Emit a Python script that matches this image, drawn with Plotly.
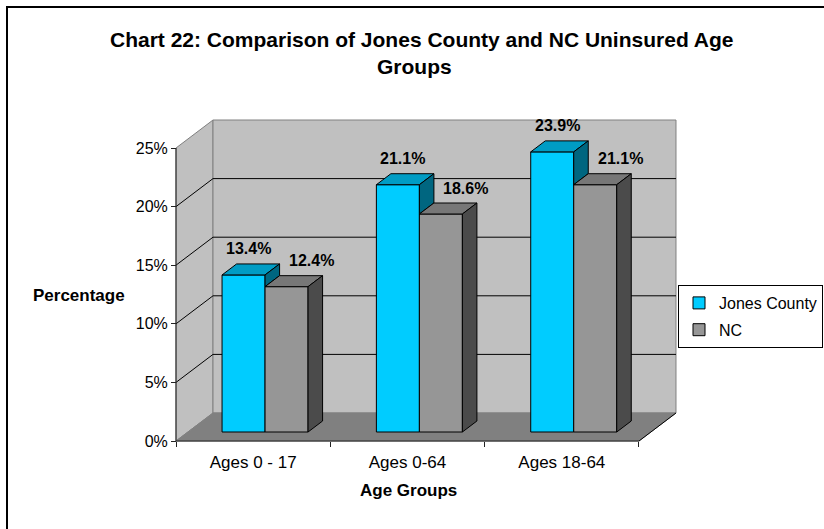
import plotly.graph_objects as go

# ---- data -------------------------------------------------------------
categories = ["Ages 0 - 17", "Ages 0-64", "Ages 18-64"]
jones_county = [13.4, 21.1, 23.9]
nc = [12.4, 18.6, 21.1]
series_names = ["Jones County", "NC"]
y_ticks = [0, 5, 10, 15, 20, 25]
y_tick_text = ["0%", "5%", "10%", "15%", "20%", "25%"]

# ---- page / projection geometry -------------------------------------
W, H = 824, 529
ML, MR, MT, MB = 172, 142, 117, 84
PW = W - ML - MR
PH = H - MT - MB
PX_CAT = 154.33          # pixels per category slot
PX_PCT = 11.72           # pixels per percentage point
ORIGIN_PX = (176, 441)   # front-left corner of the floor

DX = 37 / PX_CAT         # oblique depth, x component (category units)
DY = 28 / PX_PCT         # oblique depth, y component (percent units)
FRONT = 9 / 28           # depth fraction where bar fronts sit
THICK = 11 / 28          # bar thickness as depth fraction
BW = 43 / PX_CAT         # bar width

x_lo = -0.5 - (ORIGIN_PX[0] - ML) / PX_CAT
x_range = [x_lo, x_lo + PW / PX_CAT]
y_lo = -((H - MB) - ORIGIN_PX[1]) / PX_PCT
y_range = [y_lo, y_lo + PH / PX_PCT]

XL, XR = -0.5, len(categories) - 0.5
YMAX = y_ticks[-1]

FONT = "Liberation Sans, Arial, sans-serif"
WALL = "#C0C0C0"
FLOOR = "#808080"
EDGE = "#808080"

styles = [
    dict(front="#00CCFF", top="#009CC4", side="#006680", offset=-BW),
    dict(front="#969696", top="#777777", side="#4B4B4B", offset=0.0),
]
values = [jones_county, nc]


def px_x(px):
    return (px - ML) / PW


def px_y(py):
    return ((H - MB) - py) / PH


fig = go.Figure()

# front faces of the bars
for name, vals, st in zip(series_names, values, styles):
    fig.add_trace(go.Bar(
        x=list(range(len(categories))), y=vals, base=FRONT * DY,
        width=BW, offset=st["offset"] + FRONT * DX,
        marker=dict(color=st["front"], line=dict(color="black", width=1)),
        name=name, legendgroup=name, hoverinfo="skip",
    ))

# top and side faces, drawn left to right so nearer faces overlap
bdx, bdy = THICK * DX, THICK * DY
yb = FRONT * DY
for i in range(len(categories)):
    for s, (vals, st) in enumerate(zip(values, styles)):
        v = vals[i]
        xl = i + st["offset"] + FRONT * DX
        xr = xl + BW
        yt = yb + v
        fig.add_trace(go.Scatter(
            x=[xl, xr, xr + bdx, xl + bdx, xl],
            y=[yt, yt, yt + bdy, yt + bdy, yt],
            mode="lines", fill="toself", fillcolor=st["top"],
            line=dict(color="black", width=1),
            showlegend=False, hoverinfo="skip",
        ))
        # the side face is hidden behind the next bar up to its height
        if s + 1 < len(values):
            hidden = max(min(values[s + 1][i], v), 0)
        else:
            hidden = 0
        if v > hidden:
            ys = yb + hidden
            fig.add_trace(go.Scatter(
                x=[xr, xr, xr + bdx, xr + bdx, xr],
                y=[ys, yt, yt + bdy, ys + bdy, ys],
                mode="lines", fill="toself", fillcolor=st["side"],
                line=dict(color="black", width=1),
                showlegend=False, hoverinfo="skip",
            ))

# ---- walls, floor, gridlines -----------------------------------------
shapes = [
    # side wall
    dict(type="path", xref="x", yref="y", layer="below",
         path=f"M{XL},0 L{XL},{YMAX} L{XL+DX},{YMAX+DY} L{XL+DX},{DY} Z",
         fillcolor=WALL, line=dict(color=EDGE, width=1)),
    # back wall
    dict(type="rect", xref="x", yref="y", layer="below",
         x0=XL + DX, x1=XR + DX, y0=DY, y1=YMAX + DY,
         fillcolor=WALL, line=dict(color=EDGE, width=1)),
    # floor
    dict(type="path", xref="x", yref="y", layer="below",
         path=f"M{XL},0 L{XR},0 L{XR+DX},{DY} L{XL+DX},{DY} Z",
         fillcolor=FLOOR, line=dict(color=FLOOR, width=1)),
    dict(type="line", xref="x", yref="y", layer="below",
         x0=XR, y0=0, x1=XR + DX, y1=DY, line=dict(color="black", width=1)),
]
for t in y_ticks[1:-1]:
    shapes.append(dict(type="line", xref="x", yref="y", layer="below",
                       x0=XL + DX, x1=XR + DX, y0=t + DY, y1=t + DY,
                       line=dict(color="black", width=1)))
    shapes.append(dict(type="line", xref="x", yref="y", layer="below",
                       x0=XL, x1=XL + DX, y0=t, y1=t + DY,
                       line=dict(color="black", width=1)))
# axis lines
shapes.append(dict(type="line", xref="x", yref="y", layer="below",
                   x0=XL, x1=XL, y0=0, y1=YMAX,
                   line=dict(color="#222222", width=1)))
shapes.append(dict(type="line", xref="x", yref="y", layer="below",
                   x0=XL, x1=XR, y0=0, y1=0,
                   line=dict(color="#222222", width=1)))
# chart frame
shapes.append(dict(type="rect", xref="paper", yref="paper", layer="below",
                   x0=px_x(7), x1=px_x(W + 20), y0=px_y(7), y1=px_y(H + 20),
                   line=dict(color="black", width=2), fillcolor="rgba(0,0,0,0)"))

# ---- text -----------------------------------------------------------
annotations = [
    dict(text="<b>Chart 22: Comparison of Jones County and NC Uninsured Age</b>",
         xref="paper", yref="paper", x=px_x(421), y=px_y(40),
         xanchor="center", yanchor="middle", showarrow=False,
         font=dict(family=FONT, size=21, color="black")),
    dict(text="<b>Groups</b>",
         xref="paper", yref="paper", x=px_x(414), y=px_y(66),
         xanchor="center", yanchor="middle", showarrow=False,
         font=dict(family=FONT, size=21, color="black")),
    dict(text="<b>Percentage</b>",
         xref="paper", yref="paper", x=px_x(79), y=px_y(295),
         xanchor="center", yanchor="middle", showarrow=False,
         font=dict(family=FONT, size=17, color="black")),
    dict(text="<b>Age Groups</b>",
         xref="paper", yref="paper", x=px_x(408), y=px_y(491),
         xanchor="center", yanchor="middle", showarrow=False,
         font=dict(family=FONT, size=17, color="black")),
]
label_shift = [5, 25]
for s, (vals, st) in enumerate(zip(values, styles)):
    for i, v in enumerate(vals):
        xc = i + st["offset"] + FRONT * DX + BW / 2
        annotations.append(dict(
            text=f"<b>{v:.1f}%</b>", xref="x", yref="y",
            x=xc, y=yb + v + bdy, xshift=label_shift[s], yshift=15,
            xanchor="center", yanchor="middle", showarrow=False,
            font=dict(family=FONT, size=16, color="black")))

fig.update_layout(
    width=W, height=H,
    margin=dict(l=ML, r=MR, t=MT, b=MB, autoexpand=False),
    paper_bgcolor="white", plot_bgcolor="white",
    barmode="overlay",
    showlegend=True,
    legend=dict(x=px_x(678), y=px_y(285), xanchor="left", yanchor="top",
                bgcolor="white", bordercolor="black", borderwidth=1,
                font=dict(family=FONT, size=16, color="black"),
                tracegroupgap=3),
    xaxis=dict(range=x_range, anchor="free",
               position=((H - MB) - ORIGIN_PX[1]) / PH,
               tickvals=list(range(len(categories))), ticktext=categories,
               ticks="", ticklabelstandoff=9,
               showgrid=False, zeroline=False, showline=False,
               tickfont=dict(family=FONT, size=17, color="black"),
               minor=dict(tickmode="array",
                          tickvals=[k - 0.5 for k in range(len(categories) + 1)],
                          ticks="outside", ticklen=5, tickcolor="#222222",
                          showgrid=False),
               fixedrange=True),
    yaxis=dict(range=y_range, anchor="free",
               position=(ORIGIN_PX[0] - ML) / PW,
               tickmode="array", tickvals=y_ticks, ticktext=y_tick_text,
               ticks="outside", ticklen=5, tickcolor="#222222",
               showgrid=False, zeroline=False, showline=False,
               tickfont=dict(family=FONT, size=16, color="black"),
               fixedrange=True),
    shapes=shapes,
    annotations=annotations,
)

fig.write_html("out.html")
